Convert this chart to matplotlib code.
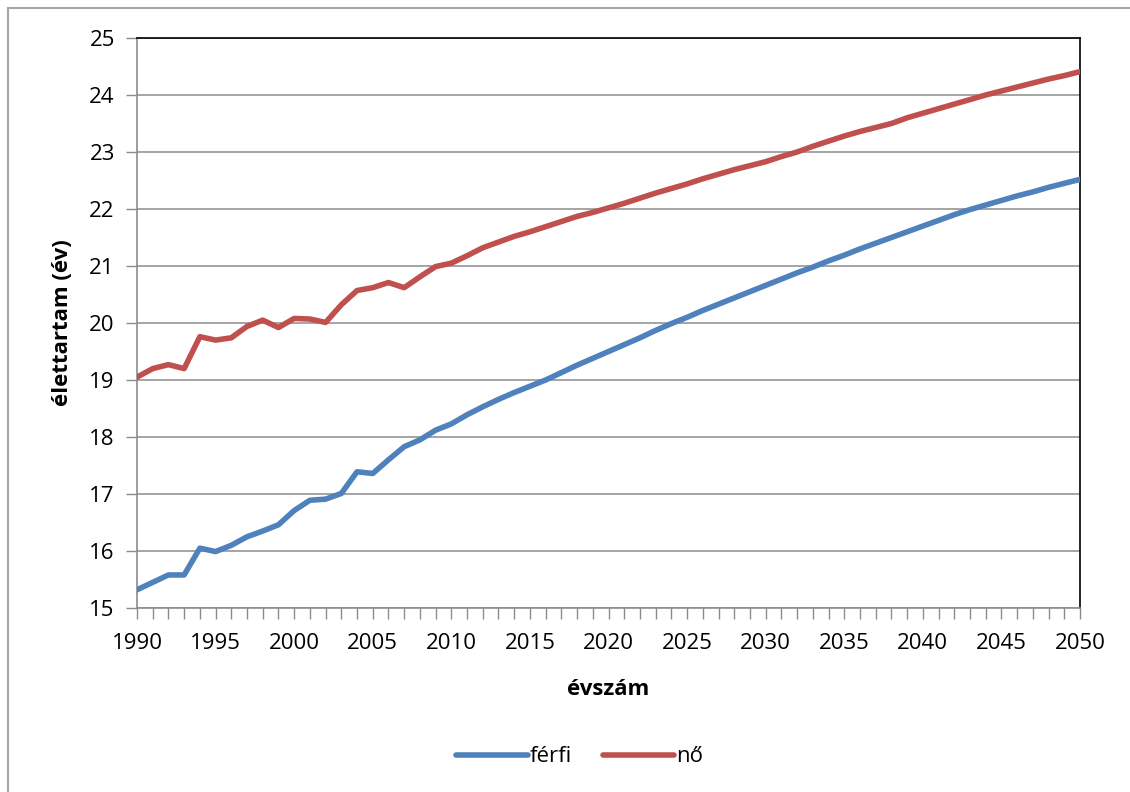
import matplotlib.pyplot as plt
from matplotlib.patches import Rectangle

plt.rcParams['font.family'] = ['Open Sans', 'DejaVu Sans']

# years 1990..2050
years = list(range(1990, 2051))

# férfi (blue)
ferfi = [15.32, 15.45, 15.58, 15.58, 16.05, 15.99, 16.10, 16.25, 16.35, 16.46,
         16.71, 16.89, 16.91, 17.01, 17.39, 17.36, 17.60, 17.83, 17.95, 18.12,
         18.23, 18.39, 18.53, 18.66, 18.78, 18.89, 19.00, 19.13, 19.26, 19.38,
         19.50, 19.62, 19.74, 19.87, 19.99, 20.10, 20.22, 20.33, 20.44, 20.55,
         20.66, 20.77, 20.88, 20.98, 21.09, 21.19, 21.30, 21.40, 21.50, 21.60,
         21.70, 21.80, 21.90, 21.99, 22.07, 22.15, 22.23, 22.30, 22.38, 22.45,
         22.52]

# nő (red)
no = [19.05, 19.20, 19.27, 19.20, 19.76, 19.70, 19.74, 19.94, 20.05, 19.92,
      20.08, 20.07, 20.01, 20.32, 20.57, 20.62, 20.71, 20.62, 20.81, 20.99,
      21.05, 21.18, 21.32, 21.42, 21.52, 21.60, 21.69, 21.78, 21.87, 21.94,
      22.02, 22.10, 22.19, 22.28, 22.36, 22.44, 22.53, 22.61, 22.69, 22.76,
      22.83, 22.92, 23.00, 23.10, 23.19, 23.28, 23.36, 23.43, 23.50, 23.60,
      23.68, 23.76, 23.84, 23.92, 24.00, 24.07, 24.14, 24.21, 24.28, 24.34,
      24.41]

yticks = list(range(15, 26))
xticks = list(range(1990, 2051, 5))

fig = plt.figure(figsize=(11.3, 7.92), dpi=100)
ax = fig.add_axes([137/1130, 1-608/792, (1080-137)/1130, (608-38)/792])

##outer chart border (left and top only visible)
fig.add_artist(Rectangle((8/1130, -0.1), 1.2, 1.1 - 8/792, transform=fig.transFigure,
                         fill=False, edgecolor='#a6a6a6', linewidth=1.5))

ax.plot(years, ferfi, color='#4f81bd', linewidth=4, solid_capstyle='round',
        solid_joinstyle='round', label='férfi', zorder=3)
ax.plot(years, no, color='#c0504d', linewidth=4, solid_capstyle='round',
        solid_joinstyle='round', label='nő', zorder=3)

ax.set_xlim(1990, 2050)
ax.set_ylim(15, 25)
ax.set_yticks(yticks)
ax.set_xticks(xticks)
ax.set_xticks(years, minor=True)
ax.yaxis.grid(True, color='#8c8c8c', linewidth=1.1)
ax.set_axisbelow(True)

ax.tick_params(axis='y', length=8, width=1, color='#8c8c8c', labelsize=16, pad=8)
ax.tick_params(axis='x', which='both', length=8, width=1, color='#8c8c8c', labelsize=16, pad=10)
for s in ['left', 'bottom']:
    ax.spines[s].set_color('#8c8c8c')
    ax.spines[s].set_linewidth(1.2)
for s in ['top', 'right']:
    ax.spines[s].set_color('black')
    ax.spines[s].set_linewidth(1.2)

ax.set_xlabel('évszám', fontsize=16, fontweight='bold', labelpad=18)
ax.set_ylabel('élettartam (év)', fontsize=16, fontweight='bold', labelpad=12)

ax.legend(loc='center', bbox_to_anchor=(580/1130, 1-757/792), bbox_transform=fig.transFigure,
          ncol=2, frameon=False, fontsize=16, handlelength=3.2, handletextpad=0.1,
          columnspacing=1.4)

plt.savefig('out.png', dpi=100)
